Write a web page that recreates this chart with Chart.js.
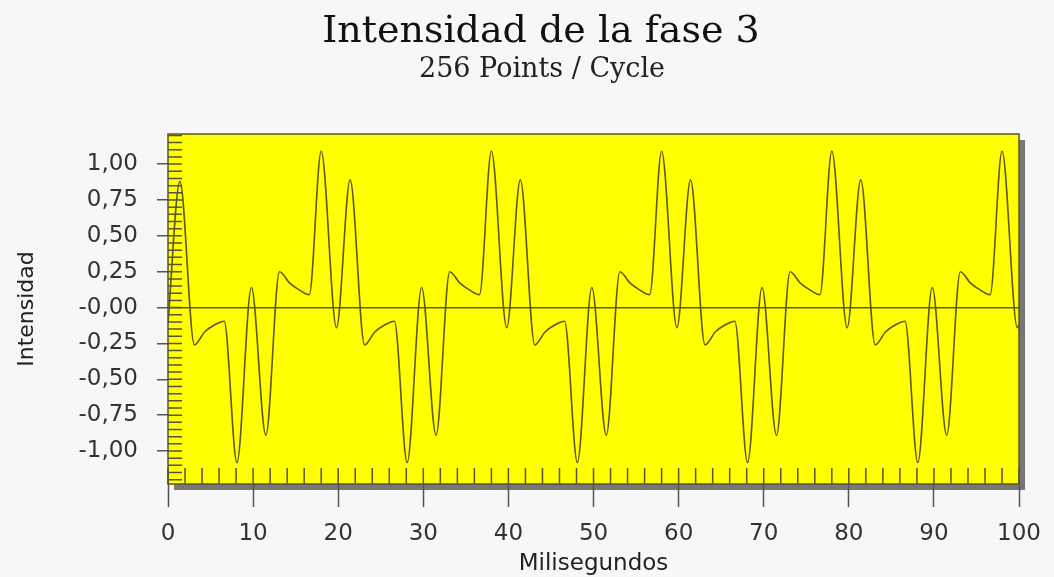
<!DOCTYPE html>
<html>
<head>
<meta charset="utf-8">
<script src="https://cdn.jsdelivr.net/npm/chart.js@4.4.0/dist/chart.umd.min.js"></script>
<style>
    html, body { margin: 0; padding: 0; background: #f7f7f7; }
</style>
</head>
<body>
<canvas id="faseChart" width="1054" height="577"></canvas>
<script>
// Tiempo (ms) de los puntos
const tiempo = [
    0, 1.4, 3.1, 4.3, 5.5, 6.6, 8.1, 9.8, 11.5, 13.1, 14.3, 15.5, 16.6, 18.0,
    19.8, 21.4, 23.1, 24.3, 25.5, 26.6, 28.1, 29.8, 31.5, 33.1, 34.3, 35.5, 36.6, 38.0,
    39.8, 41.4, 43.1, 44.3, 45.5, 46.6, 48.1, 49.8, 51.5, 53.1, 54.3, 55.5, 56.6, 58.0,
    59.8, 61.4, 63.1, 64.3, 65.5, 66.6, 68.1, 69.8, 71.5, 73.1, 74.3, 75.5, 76.6, 78.0,
    79.8, 81.4, 83.1, 84.3, 85.5, 86.6, 88.1, 89.8, 91.5, 93.1, 94.3, 95.5, 96.6, 98.0,
    99.8, 100
];

// Intensidad en cada punto
const intensidad = [
    -0.10, 0.88, -0.26, -0.17, -0.12, -0.095, -1.08, 0.14, -0.89, 0.25, 0.17, 0.12, 0.09, 1.09,
    -0.14, 0.89, -0.26, -0.17, -0.12, -0.095, -1.08, 0.14, -0.89, 0.25, 0.17, 0.12, 0.09, 1.09,
    -0.14, 0.89, -0.26, -0.17, -0.12, -0.095, -1.08, 0.14, -0.89, 0.25, 0.17, 0.12, 0.09, 1.09,
    -0.14, 0.89, -0.26, -0.17, -0.12, -0.095, -1.08, 0.14, -0.89, 0.25, 0.17, 0.12, 0.09, 1.09,
    -0.14, 0.89, -0.26, -0.17, -0.12, -0.095, -1.08, 0.14, -0.89, 0.25, 0.17, 0.12, 0.09, 1.09,
    -0.14, -0.12
];

const xTicks = [0, 10, 20, 30, 40, 50, 60, 70, 80, 90, 100];
const yTicks = [-1, -0.75, -0.5, -0.25, 0, 0.25, 0.5, 0.75, 1];
const yLabels = ['-1,00', '-0,75', '-0,50', '-0,25', '-0,00', '0,25', '0,50', '0,75', '1,00'];

const titulo = 'Intensidad de la fase 3';
const subtitulo = '256 Points / Cycle';

// Fondo amarillo con sombra, borde, marcas interiores y titulos
const plotFrame = {
    id: 'plotFrame',
    beforeDraw(chart) {
        const { ctx, chartArea: a } = chart;
        ctx.save();
        ctx.fillStyle = '#f7f7f7';
        ctx.fillRect(0, 0, chart.width, chart.height);
        ctx.fillStyle = '#777777';
        ctx.fillRect(a.left + 6, a.top + 6, a.right - a.left, a.bottom - a.top);
        ctx.fillStyle = '#ffff00';
        ctx.fillRect(a.left, a.top, a.right - a.left, a.bottom - a.top);

        // titulos
        ctx.textAlign = 'center';
        ctx.textBaseline = 'middle';
        ctx.fillStyle = '#111111';
        ctx.font = '38px "DejaVu Serif"';
        ctx.fillText(titulo, 541, 32);
        ctx.fillStyle = '#222222';
        ctx.font = '27px "DejaVu Serif"';
        ctx.fillText(subtitulo, 542, 70);
        ctx.restore();
    },
    afterDraw(chart) {
        const { ctx, chartArea: a, scales } = chart;
        ctx.save();
        ctx.strokeStyle = '#55552e';
        ctx.lineWidth = 1.5;
        ctx.beginPath();
        for (let v = -120; v <= 120; v += 5) {
            const y = scales.y.getPixelForValue(v / 100);
            ctx.moveTo(a.left, y);
            ctx.lineTo(a.left + 14, y);
        }
        for (let v = 0; v <= 100; v += 2) {
            const x = scales.x.getPixelForValue(v);
            ctx.moveTo(x, a.bottom);
            ctx.lineTo(x, a.bottom - 16);
        }
        ctx.stroke();
        ctx.strokeRect(a.left, a.top, a.right - a.left, a.bottom - a.top);
        ctx.restore();
    }
};

new Chart(document.getElementById('faseChart'), {
    type: 'line',
    data: {
        datasets: [{
            label: 'Intensidad',
            data: tiempo.map((t, i) => ({ x: t, y: intensidad[i] })),
            borderColor: '#5e5816',
            borderWidth: 1.6,
            pointRadius: 0,
            cubicInterpolationMode: 'monotone',
            fill: false
        }]
    },
    options: {
        responsive: false,
        animation: false,
        layout: {
            padding: { left: 14, right: 34, top: 134, bottom: 0 }
        },
        plugins: {
            legend: { display: false },
            tooltip: { enabled: false },
            title: { display: false },
            subtitle: { display: false }
        },
        scales: {
            x: {
                type: 'linear',
                min: 0,
                max: 100,
                afterBuildTicks: (scale) => { scale.ticks = xTicks.map(v => ({ value: v })); },
                afterFit: (scale) => { scale.height = 93; },
                ticks: {
                    color: '#333333',
                    padding: 13,
                    maxRotation: 0,
                    font: { family: 'DejaVu Sans', size: 23 }
                },
                grid: {
                    display: true,
                    drawOnChartArea: false,
                    drawTicks: true,
                    tickLength: 23,
                    tickColor: '#555555',
                    tickWidth: 1.5
                },
                border: { display: false },
                title: {
                    display: true,
                    text: 'Milisegundos',
                    color: '#222222',
                    font: { family: 'DejaVu Sans', size: 23, lineHeight: 1.1 },
                    padding: { top: 0, bottom: 0 }
                }
            },
            y: {
                min: -1.23,
                max: 1.21,
                afterBuildTicks: (scale) => { scale.ticks = yTicks.map(v => ({ value: v })); },
                afterFit: (scale) => { scale.width = 154; },
                ticks: {
                    color: '#333333',
                    padding: 19,
                    font: { family: 'DejaVu Sans', size: 23 },
                    callback: (value, index) => yLabels[index]
                },
                grid: {
                    display: true,
                    drawOnChartArea: true,
                    drawTicks: true,
                    tickLength: 11,
                    color: (ctx) => (ctx.tick && ctx.tick.value === 0 ? '#5e5a24' : 'rgba(0,0,0,0)'),
                    lineWidth: 1.5,
                    tickColor: '#555555',
                    tickWidth: 1.5
                },
                border: { display: false },
                title: {
                    display: true,
                    text: 'Intensidad',
                    color: '#222222',
                    font: { family: 'DejaVu Sans', size: 22, lineHeight: 1.2 },
                    padding: { top: 0, bottom: 0 }
                }
            }
        }
    },
    plugins: [plotFrame]
});
</script>
</body>
</html>
